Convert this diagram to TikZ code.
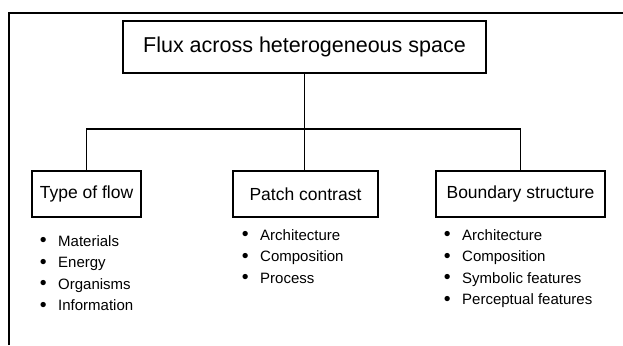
\documentclass[tikz,border=0pt]{standalone}
\usepackage{fontspec}
\setmainfont{Liberation Sans}
\begin{document}
\begin{tikzpicture}[x=1pt,y=-1pt,
  box/.style={draw, line width=1.4pt, inner sep=0pt, minimum height=46pt, font=\fontsize{17.5}{20}\selectfont},
  conn/.style={line width=1.4pt},
  frame/.style={line width=2.2pt},
  item/.style={anchor=base west, inner sep=0pt, font=\fontsize{15}{18}\selectfont}]
\useasboundingbox (0,0) rectangle (623,345);
\fill[white] (0,0) rectangle (623,345);
\draw[frame] (9,345) -- (9,13) -- (623,13);
\node[box, minimum width=363pt, minimum height=52pt, font=\fontsize{21.5}{24}\selectfont] (top) at (304.5,47) {Flux across heterogeneous space};
\node[box, minimum width=109pt] (type) at (86.5,194) {Type of flow};
\node[box, minimum width=145pt] (patch) at (305.5,194) {Patch contrast};
\node[box, minimum width=169pt] (bound) at (520.5,194) {Boundary structure};
\coordinate (j) at (304.5,129);
\draw[conn] (top.south) -- (j);
\draw[conn] (j) -- (j |- patch.north);
\draw[conn] (type.north) |- (j) -| (bound.north);
\foreach \t [count=\i] in {Materials,Energy,Organisms,Information}
  \node[item] (a\i) at (28,{246+21.5*(\i-1)}) {\makebox[30pt]{\raisebox{-0.6pt}{\scalebox{1.3}{\textbullet}}}\t};
\foreach \t [count=\i] in {Architecture,Composition,Process}
  \node[item] (b\i) at (230,{240+21.5*(\i-1)}) {\makebox[30pt]{\raisebox{-0.6pt}{\scalebox{1.3}{\textbullet}}}\t};
\foreach \t [count=\i] in {Architecture,Composition,Symbolic features,Perceptual features}
  \node[item] (c\i) at (432,{240+21.5*(\i-1)}) {\makebox[30pt]{\raisebox{-0.6pt}{\scalebox{1.3}{\textbullet}}}\t};
\end{tikzpicture}
\end{document}
